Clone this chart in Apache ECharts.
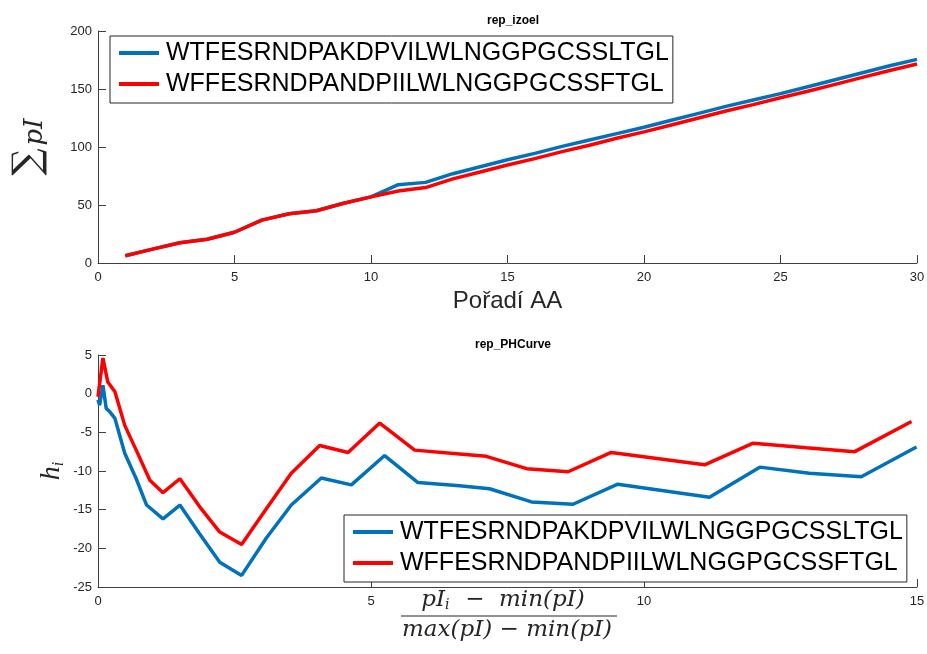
<!DOCTYPE html>
<html>
<head>
<meta charset="utf-8">
<script src="https://cdn.jsdelivr.net/npm/echarts@6/dist/echarts.min.js"></script>
<style>
html,body{margin:0;padding:0;background:#fff}
#chart{width:927px;height:654px}
</style>
</head>
<body>
<div id="chart"></div>
<script>
var seqNames = ['WTFESRNDPAKDPVILWLNGGPGCSSLTGL', 'WFFESRNDPANDPIILWLNGGPGCSSFTGL'];
var seqColors = ['#0072BD', '#FF0000'];

// rep_izoel: cumulative pI along the sequence
var aaOrder = [1,2,3,4,5,6,7,8,9,10,11,12,13,14,15,16,17,18,19,20,21,22,23,24,25,26,27,28,29,30];
var izoelBlue = [6.3,12,17.5,20.5,26.5,37,42.5,45,51.5,57,67.5,69.5,77,83,89,94.5,100.5,106,111.5,117,123,129,135,140.5,146,152,158,164,170,175.5];
var izoelRed  = [6.3,12,17.5,20.5,26.5,37,42.5,45,51.5,57,62,65,72.5,78.5,84.5,90,96,101.5,107.5,113,119,125,131,136.5,142.5,148,154,160,166,171.5];

// rep_PHCurve
var phBlueX = [0,0.03,0.09,0.15,0.21,0.31,0.49,0.70,0.89,1.19,1.50,1.86,2.23,2.63,3.08,3.54,4.09,4.64,5.25,5.86,6.62,7.17,7.94,8.70,9.52,11.20,12.12,13.03,13.98,14.99];
var phBlueY = [-0.8,-1.5,1.1,-1.9,-2.3,-3.2,-7.7,-11.0,-14.4,-16.2,-14.4,-18.1,-21.8,-23.5,-18.7,-14.4,-10.9,-11.8,-8.0,-11.5,-11.9,-12.3,-14.0,-14.3,-11.7,-13.4,-9.5,-10.3,-10.75,-6.9];
var phRedX = [0,0.09,0.18,0.31,0.49,0.70,0.95,1.19,1.50,1.86,2.23,2.63,3.08,3.54,4.06,4.58,5.16,5.80,6.62,7.11,7.85,8.61,9.40,11.11,12.00,12.97,13.86,14.90];
var phRedY = [-0.4,4.6,1.5,0.25,-4.1,-7.3,-11.2,-12.8,-11.0,-14.6,-17.9,-19.5,-14.9,-10.3,-6.7,-7.6,-3.8,-7.3,-7.8,-8.1,-9.7,-10.1,-7.6,-9.2,-6.4,-7.0,-7.5,-3.6];

function pairs(xs, ys) {
	var out = [];
	for (var i = 0; i < xs.length; i++) out.push([xs[i], ys[i]]);
	return out;
}

var axisGray = '#404040';
var labelFont = 'Liberation Sans';
var mathFont = 'DejaVu Serif';

function valueAxis(extra) {
	var ax = {
		type: 'value',
		axisLine: { show: true, onZero: false, lineStyle: { color: axisGray, width: 1 } },
		axisTick: { show: true, inside: true, length: 8, lineStyle: { color: axisGray } },
		axisLabel: { color: '#262626', fontSize: 13, fontFamily: labelFont },
		splitLine: { show: false }
	};
	for (var k in extra) ax[k] = extra[k];
	return ax;
}

function lineSeries(name, color, x, y, idx) {
	return {
		name: name, type: 'line', xAxisIndex: idx, yAxisIndex: idx,
		data: pairs(x, y), showSymbol: false, symbol: 'none',
		lineStyle: { color: color, width: 3.5 }, itemStyle: { color: color }
	};
}

function legendBox(left, top) {
	return {
		orient: 'vertical', left: left, top: top,
		data: seqNames,
		icon: 'rect', itemWidth: 40, itemHeight: 4, itemGap: 3,
		padding: [3, 4, 5, 9],
		borderColor: '#262626', borderWidth: 1, backgroundColor: '#fff',
		textStyle: { fontSize: 25, lineHeight: 28, color: '#000', fontFamily: labelFont, padding: [0, 0, 0, 2] }
	};
}

var chart = echarts.init(document.getElementById('chart'));
chart.setOption({
	animation: false,
	backgroundColor: '#fff',
	title: [
		{ text: 'rep_izoel', left: 508, top: 10, textAlign: 'center',
		  textStyle: { fontSize: 12, fontWeight: 'bold', color: '#000', fontFamily: labelFont } },
		{ text: 'rep_PHCurve', left: 508, top: 334, textAlign: 'center',
		  textStyle: { fontSize: 12, fontWeight: 'bold', color: '#000', fontFamily: labelFont } }
	],
	legend: [legendBox(110, 36), legendBox(344, 515)],
	grid: [
		{ left: 98, right: 10, top: 31, height: 232, outerBoundsMode: 'none' },
		{ left: 98, right: 10, top: 355, height: 232, outerBoundsMode: 'none' }
	],
	xAxis: [
		valueAxis({ gridIndex: 0, min: 0, max: 30, interval: 5,
			name: 'Pořadí AA', nameLocation: 'middle', nameGap: 26,
			nameTextStyle: { fontSize: 24, color: '#262626', fontFamily: labelFont },
			axisLabel: { color: '#262626', fontSize: 13, fontFamily: labelFont, margin: 8 } }),
		valueAxis({ gridIndex: 1, min: 0, max: 15, interval: 5,
			axisLabel: { color: '#262626', fontSize: 13, fontFamily: labelFont, margin: 8 } })
	],
	yAxis: [
		valueAxis({ gridIndex: 0, min: 0, max: 200, interval: 50,
			name: '{s|∑}{p|pI}', nameLocation: 'middle', nameGap: 50,
			nameTextStyle: { rich: {
				s: { fontSize: 38, fontFamily: mathFont, color: '#262626', lineHeight: 40, verticalAlign: 'bottom' },
				p: { fontSize: 26, fontStyle: 'italic', fontFamily: mathFont, color: '#262626', lineHeight: 40, verticalAlign: 'bottom', padding: [6, 0, 0, 3] }
			} },
			axisLabel: { color: '#262626', fontSize: 13, fontFamily: labelFont, margin: 6 } }),
		valueAxis({ gridIndex: 1, min: -25, max: 5, interval: 5,
			name: '{h|h}{i|i}', nameLocation: 'middle', nameGap: 31, nameMoveOverlap: false,
			nameTextStyle: { rich: {
				h: { fontSize: 28, fontStyle: 'italic', fontFamily: 'Liberation Serif', color: '#262626', lineHeight: 30 },
				i: { fontSize: 16, fontStyle: 'italic', fontFamily: 'Liberation Serif', color: '#262626', verticalAlign: 'bottom', lineHeight: 30, padding: [8, 0, 0, 0] }
			} },
			axisLabel: { color: '#262626', fontSize: 13, fontFamily: labelFont, margin: 6 } })
	],
	graphic: [
		{ type: 'text', x: 503, y: 588, z: 10,
		  style: { text: '{v|pI}{s|i}{v|  −  min(pI)}', align: 'center', verticalAlign: 'top',
			rich: {
				v: { fontSize: 23, fontStyle: 'italic', fontFamily: mathFont, fill: '#262626' },
				s: { fontSize: 14, fontStyle: 'italic', fontFamily: mathFont, fill: '#262626', padding: [10, 1, 0, 0] }
			} } },
		{ type: 'line', z: 10, shape: { x1: 401, y1: 616, x2: 617, y2: 616 }, style: { stroke: '#262626', lineWidth: 1.2 } },
		{ type: 'text', x: 507, y: 619, z: 10,
		  style: { text: 'max(pI) − min(pI)', align: 'center', verticalAlign: 'top',
			fontSize: 23, fontStyle: 'italic', fontFamily: mathFont, fill: '#262626' } }
	],
	series: [
		lineSeries(seqNames[0], seqColors[0], aaOrder, izoelBlue, 0),
		lineSeries(seqNames[1], seqColors[1], aaOrder, izoelRed, 0),
		lineSeries(seqNames[0], seqColors[0], phBlueX, phBlueY, 1),
		lineSeries(seqNames[1], seqColors[1], phRedX, phRedY, 1)
	]
});
</script>
</body>
</html>
